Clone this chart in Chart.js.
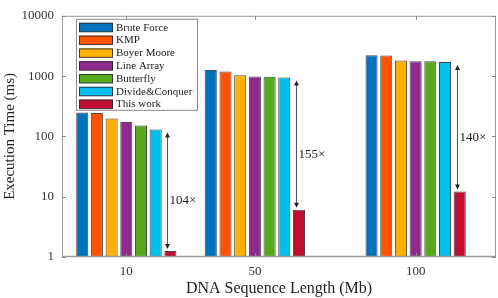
<!DOCTYPE html>
<html>
<head>
<meta charset="utf-8">
<script src="https://cdn.jsdelivr.net/npm/chart.js@4/dist/chart.umd.min.js"></script>
<style>
  html, body { margin: 0; padding: 0; background: #fff; }
  #wrap { width: 498px; height: 298px; position: relative; }
</style>
</head>
<body>
<div id="wrap"><canvas id="c" width="498" height="298"></canvas></div>
<script>
// ---- data ----
const lengths = [10, 50, 100];              // DNA sequence length (Mb)
const bruteForce   = [248, 1257, 2208];
const kmp          = [245, 1194, 2200];
const boyerMoore   = [199, 1030, 1815];
const lineArray    = [174, 982, 1770];
const butterfly    = [152, 980, 1760];
const divideConq   = [130, 946, 1706];
const thisWork     = [1.26, 6.1, 12.2];
const speedups     = [104, 155, 140];
const seriesNames  = ['Brute Force', 'KMP', 'Boyer Moore', 'Line Array', 'Butterfly', 'Divide&Conquer', 'This work'];
const seriesColors = ['#0072BD', '#FF5300', '#FFB000', '#902A8E', '#56A91C', '#00BFEF', '#C00D30'];
const yTicks = [1, 10, 100, 1000, 10000];
const xTicks = [10, 50, 100];

const allSeries = [bruteForce, kmp, boyerMoore, lineArray, butterfly, divideConq, thisWork];
const FONT = "'Liberation Serif', 'Times New Roman', serif";

const datasets = allSeries.map((vals, i) => ({
  label: seriesNames[i],
  data: vals.map((v, j) => ({ x: lengths[j], y: v })),
  backgroundColor: seriesColors[i],
  borderColor: 'rgba(40,40,40,0.85)',
  borderWidth: 1,
  categoryPercentage: 0.8,
  barPercentage: 0.82
}));

const framePlugin = {
  id: 'frame',
  afterDraw(chart) {
    const { ctx, chartArea: a, scales } = chart;
    ctx.save();
    ctx.strokeStyle = '#9a9a9a';
    ctx.lineWidth = 1;
    ctx.strokeRect(a.left + 0.5, a.top + 0.5, a.right - a.left - 1, a.bottom - a.top - 1);
    ctx.lineWidth = 1.5;
    ctx.beginPath();
    ctx.moveTo(a.left, a.bottom - 0.5); ctx.lineTo(a.right, a.bottom - 0.5);
    ctx.stroke();
    // inward ticks
    ctx.strokeStyle = '#8a8a8a';
    ctx.lineWidth = 1;
    const tl = 4;
    xTicks.forEach(v => {
      const x = Math.round(scales.x.getPixelForValue(v)) + 0.5;
      ctx.beginPath();
      ctx.moveTo(x, a.top); ctx.lineTo(x, a.top + tl);
      ctx.moveTo(x, a.bottom); ctx.lineTo(x, a.bottom - tl);
      ctx.stroke();
    });
    yTicks.forEach(v => {
      const y = Math.round(scales.y.getPixelForValue(v)) + 0.5;
      ctx.beginPath();
      ctx.moveTo(a.left, y); ctx.lineTo(a.left + tl, y);
      ctx.moveTo(a.right, y); ctx.lineTo(a.right - tl, y);
      ctx.stroke();
    });
    ctx.restore();
  }
};

const arrowPlugin = {
  id: 'arrows',
  afterDatasetsDraw(chart) {
    const { ctx } = chart;
    const dcMeta = chart.getDatasetMeta(5);
    const twMeta = chart.getDatasetMeta(6);
    ctx.save();
    lengths.forEach((_, i) => {
      const dc = dcMeta.data[i], tw = twMeta.data[i];
      const x = Math.round(tw.x - 3) + 0.5;
      const yTop = dc.y + 3;
      const yBot = tw.y - 2;
      ctx.strokeStyle = '#555';
      ctx.fillStyle = '#222';
      ctx.lineWidth = 1;
      ctx.beginPath();
      ctx.moveTo(x, yTop + 3); ctx.lineTo(x, yBot - 3);
      ctx.stroke();
      ctx.beginPath();
      ctx.moveTo(x, yTop); ctx.lineTo(x - 2.5, yTop + 5); ctx.lineTo(x + 2.5, yTop + 5); ctx.closePath();
      ctx.fill();
      ctx.beginPath();
      ctx.moveTo(x, yBot); ctx.lineTo(x - 2.5, yBot - 5); ctx.lineTo(x + 2.5, yBot - 5); ctx.closePath();
      ctx.fill();
      ctx.font = '13px ' + FONT;
      ctx.fillStyle = '#222';
      ctx.textAlign = 'left';
      ctx.textBaseline = 'middle';
      ctx.fillText(speedups[i] + '×', x + 2, (yTop + yBot) / 2 + 10);
    });
    ctx.restore();
  }
};

const legendPlugin = {
  id: 'boxLegend',
  afterDraw(chart) {
    const { ctx, chartArea: a } = chart;
    const bx = a.left + 14, by = a.top + 3, bw = 121, bh = 91;
    ctx.save();
    ctx.fillStyle = '#fff';
    ctx.fillRect(bx, by, bw, bh);
    ctx.strokeStyle = '#8a8a8a';
    ctx.lineWidth = 1;
    ctx.strokeRect(bx + 0.5, by + 0.5, bw, bh);
    ctx.font = '11px ' + FONT;
    ctx.textAlign = 'left';
    ctx.textBaseline = 'middle';
    chart.data.datasets.forEach((ds, i) => {
      const cy = by + 8.5 + i * 12.8;
      ctx.fillStyle = ds.backgroundColor;
      ctx.fillRect(bx + 3, cy - 4.5, 34, 9);
      ctx.strokeStyle = 'rgba(40,40,40,0.85)';
      ctx.strokeRect(bx + 3.5, cy - 4, 33, 8.5);
      ctx.fillStyle = '#222';
      ctx.fillText(ds.label, bx + 40, cy + 0.5);
    });
    ctx.restore();
  }
};

new Chart(document.getElementById('c'), {
  type: 'bar',
  data: { datasets },
  plugins: [arrowPlugin, framePlugin, legendPlugin],
  options: {
    responsive: false,
    animation: false,
    devicePixelRatio: 1,
    layout: { padding: { top: 7, right: 2, left: 0, bottom: 0 } },
    plugins: { legend: { display: false }, tooltip: { enabled: false } },
    scales: {
      x: {
        type: 'linear',
        min: -10, max: 125,
        offset: false,
        grid: { display: false, drawTicks: false, offset: false },
        border: { display: false },
        afterBuildTicks: s => { s.ticks = xTicks.map(v => ({ value: v })); },
        afterFit: s => { s.height = 41; },
        ticks: { padding: 7, color: '#333', font: { family: FONT, size: 13 }, callback: v => String(v) },
        title: { display: true, text: 'DNA Sequence Length (Mb)', color: '#222',
                 font: { family: FONT, size: 16 }, padding: { top: 0, bottom: 0 } }
      },
      y: {
        type: 'logarithmic',
        min: 1, max: 10000,
        grid: { display: false, drawTicks: false },
        border: { display: false },
        afterBuildTicks: s => { s.ticks = yTicks.map(v => ({ value: v, major: true })); },
        afterFit: s => { s.width = 62; },
        ticks: { padding: 8, color: '#333', font: { family: FONT, size: 13 }, callback: v => String(v) },
        title: { display: true, text: 'Execution Time (ms)', color: '#222',
                 font: { family: FONT, size: 15 }, padding: { top: 1, bottom: 0 } }
      }
    }
  }
});
</script>
</body>
</html>
